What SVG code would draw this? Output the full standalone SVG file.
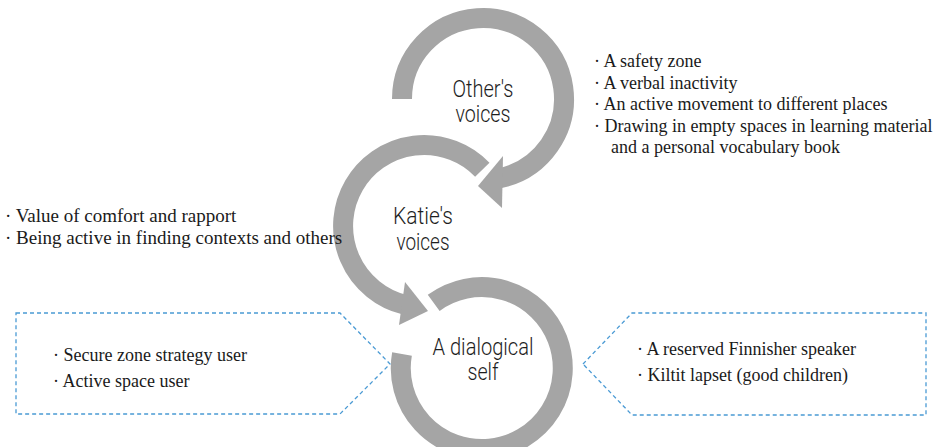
<svg xmlns="http://www.w3.org/2000/svg" width="941" height="447" viewBox="0 0 941 447">
  <style>
    .ring { fill: none; stroke: #a5a5a5; stroke-width: 20; stroke-linecap: butt; }
    .head { fill: #a5a5a5; stroke: none; }
    .label { font-family: Roboto, "Noto Sans", "DejaVu Sans", sans-serif; font-weight: 300; font-size: 23px; fill: #1e1e1e; text-anchor: middle; }
    .note { font-family: "Liberation Serif", "Times New Roman", serif; font-size: 18px; fill: #1a1a1a; }
    .note-lg { font-size: 19px; }
    .callout { fill: none; stroke: #4a9ad4; stroke-width: 1.3; stroke-dasharray: 4 3; }
  </style>

  <!-- circular arrows linking the three voices -->
  <g id="connectors">
    <path class="ring" d="M402,99 A81,81 0 1 1 499.8,178.2"/>
    <polygon class="head" points="503,156 478,186 502,208"/>
    <path class="ring" d="M482.3,169.7 A81,81 0 1 0 404.4,304.6"/>
    <polygon class="head" points="405,282 428,311 399,325"/>
    <path class="ring" d="M433.7,302.9 A81,81 0 1 1 402,354"/>
  </g>

  <g id="others-voices">
    <text class="label" x="483" y="97" textLength="61" lengthAdjust="spacingAndGlyphs">Other's</text>
    <text class="label" x="483" y="122" textLength="55" lengthAdjust="spacingAndGlyphs">voices</text>
  </g>

  <g id="katies-voices">
    <text class="label" x="423" y="224" textLength="60" lengthAdjust="spacingAndGlyphs">Katie's</text>
    <text class="label" x="423" y="250" textLength="53" lengthAdjust="spacingAndGlyphs">voices</text>
  </g>

  <g id="dialogical-self">
    <text class="label" x="483" y="355" textLength="101" lengthAdjust="spacingAndGlyphs">A dialogical</text>
    <text class="label" x="483" y="380" textLength="31" lengthAdjust="spacingAndGlyphs">self</text>
  </g>

  <g id="others-notes">
    <text class="note" x="594" y="67">· A safety zone</text>
    <text class="note" x="594" y="88.5">· A verbal inactivity</text>
    <text class="note" x="594" y="110">· An active movement to different places</text>
    <text class="note" x="594" y="131.5">· Drawing in empty spaces in learning material</text>
    <text class="note" x="611" y="153">and a personal vocabulary book</text>
  </g>

  <g id="katie-notes">
    <text class="note note-lg" x="5" y="222">· Value of comfort and rapport</text>
    <text class="note note-lg" x="5" y="244">· Being active in finding contexts and others</text>
  </g>

  <g id="self-left">
    <polygon class="callout" points="16,313 340,313 390,364 340,414 16,414"/>
    <text class="note" x="53" y="361">· Secure zone strategy user</text>
    <text class="note" x="53" y="387">· Active space user</text>
  </g>

  <g id="self-right">
    <polygon class="callout" points="583,364 632,313 926,313 926,415 632,415"/>
    <text class="note" x="637" y="355">· A reserved Finnisher speaker</text>
    <text class="note" x="637" y="381">· Kiltit lapset (good children)</text>
  </g>
</svg>
